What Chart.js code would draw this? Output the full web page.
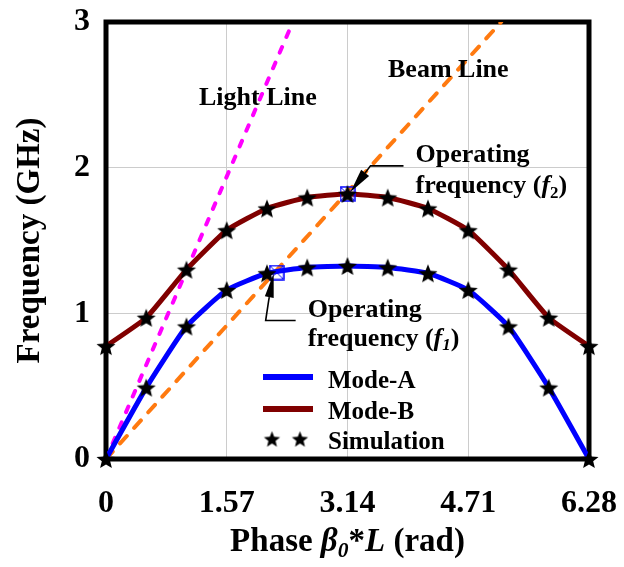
<!DOCTYPE html>
<html><head><meta charset="utf-8">
<script src="https://cdn.jsdelivr.net/npm/chart.js@4/dist/chart.umd.min.js"></script>
<style>html,body{margin:0;padding:0;background:#fff;overflow:hidden}</style>
</head><body>
<canvas id="c" width="624" height="567"></canvas>
<script>
// ---- data ----
const phase = [0, 0.5236, 1.0472, 1.5708, 2.0944, 2.618, 3.1416, 3.6652, 4.1888, 4.7124, 5.236, 5.7596, 6.2832];
const modeA = [0, 0.49, 0.91, 1.16, 1.275, 1.315, 1.325, 1.315, 1.275, 1.16, 0.91, 0.49, 0];
const modeB = [0.775, 0.97, 1.30, 1.57, 1.72, 1.795, 1.82, 1.795, 1.72, 1.57, 1.30, 0.97, 0.775];
const lightLinePhase = [0, 2.43];
const lightLineFreq = [0, 3];
const beamLinePhase = [0, 5.14];
const beamLineFreq = [0, 3];
const operPhase = [2.22, 3.1416];
const operFreq = [1.28, 1.82];
const xTickValues = [0, 1.5708, 3.1416, 4.7124, 6.2832];
const xTickLabels = ['0', '1.57', '3.14', '4.71', '6.28'];
const yTickLabels = ['0', '1', '2', '3'];
const legendLabels = ['Mode-A', 'Mode-B', 'Simulation'];

const SERIF = '"Liberation Serif", "Times New Roman", serif';
const BLUE = '#0000ff', DRED = '#800000', MAG = '#ff00ff', ORG = '#ff7a10';

function pts(xs, ys) { return xs.map((x, i) => ({x: x, y: ys[i]})); }

function makeStar(R) {
  const c = document.createElement('canvas');
  const s = Math.ceil(R * 2 + 2);
  c.width = s; c.height = s;
  const g = c.getContext('2d');
  const cx = s / 2, cy = s / 2 + R * 0.1, r = R * 0.44;
  g.beginPath();
  for (let i = 0; i < 10; i++) {
    const a = -Math.PI / 2 + i * Math.PI / 5;
    const rr = i % 2 === 0 ? R : r;
    g.lineTo(cx + rr * Math.cos(a), cy + rr * Math.sin(a));
  }
  g.closePath();
  g.fillStyle = '#000';
  g.fill();
  return c;
}
function makeSquare(side) {
  const c = document.createElement('canvas');
  const s = side + 2;
  c.width = s; c.height = s;
  const g = c.getContext('2d');
  g.strokeStyle = BLUE; g.lineWidth = 1.5;
  g.strokeRect(1, 1, side, side);
  g.lineWidth = 1;
  g.beginPath();
  g.moveTo(1, 1); g.lineTo(1 + side, 1 + side);
  g.moveTo(1 + side, 1); g.lineTo(1, 1 + side);
  g.stroke();
  return c;
}
const starImg = makeStar(10);
const starSmall = makeStar(8.5);
const sqImg = makeSquare(14);

function font(size, italic) { return (italic ? 'italic ' : '') + 'bold ' + size + 'px ' + SERIF; }

function drawRich(ctx, parts, x, y, size, align) {
  let w = 0;
  parts.forEach(p => { ctx.font = font(p.sub ? size * 0.65 : size, p.it); p.w = ctx.measureText(p.t).width; w += p.w; });
  let cx = align === 'center' ? x - w / 2 : x;
  ctx.textAlign = 'left'; ctx.textBaseline = 'alphabetic'; ctx.fillStyle = '#000';
  parts.forEach(p => {
    ctx.font = font(p.sub ? size * 0.65 : size, p.it);
    ctx.fillText(p.t, cx, p.sub ? y + size * 0.18 : y);
    cx += p.w;
  });
}

function arrow(ctx, pts, headLen, headW) {
  const n = pts.length;
  const tip = pts[n - 1], prev = pts[n - 2];
  const dx = tip[0] - prev[0], dy = tip[1] - prev[1];
  const L = Math.hypot(dx, dy), ux = dx / L, uy = dy / L;
  const bx = tip[0] - ux * headLen, by = tip[1] - uy * headLen;
  ctx.strokeStyle = '#000'; ctx.lineWidth = 1.6;
  ctx.beginPath();
  ctx.moveTo(pts[0][0], pts[0][1]);
  for (let i = 1; i < n - 1; i++) ctx.lineTo(pts[i][0], pts[i][1]);
  ctx.lineTo(bx, by);
  ctx.stroke();
  ctx.fillStyle = '#000';
  ctx.beginPath();
  ctx.moveTo(tip[0], tip[1]);
  ctx.lineTo(bx - uy * headW / 2, by + ux * headW / 2);
  ctx.lineTo(bx + uy * headW / 2, by - ux * headW / 2);
  ctx.closePath();
  ctx.fill();
}

const framePlugin = {
  id: 'frame',
  beforeDatasetsDraw(chart) {
    const {ctx, chartArea: a} = chart;
    ctx.save();
    ctx.strokeStyle = '#000'; ctx.lineWidth = 5;
    ctx.strokeRect(a.left, a.top, a.right - a.left, a.bottom - a.top);
    ctx.restore();
  }
};

const notesPlugin = {
  id: 'notes',
  afterDraw(chart) {
    const {ctx, chartArea: a, scales: {x, y}} = chart;
    ctx.save();
    drawRich(ctx, [{t: 'Light Line'}], a.left + 93, a.top + 83, 26, 'left');
    drawRich(ctx, [{t: 'Beam Line'}], a.left + 282, a.top + 55, 26, 'left');
    const m1x = x.getPixelForValue(operPhase[0]), m1y = y.getPixelForValue(operFreq[0]);
    const m2x = x.getPixelForValue(operPhase[1]), m2y = y.getPixelForValue(operFreq[1]);
    arrow(ctx, [[m2x + 56, m2y - 28], [m2x + 23, m2y - 28], [m2x + 3, m2y - 2]], 24, 10);
    arrow(ctx, [[m1x + 19, m1y + 48], [m1x - 11, m1y + 48], [m1x - 8, m1y + 28], [m1x - 3, m1y + 1]], 24, 9);
    drawRich(ctx, [{t: 'Operating'}], m2x + 68, m2y - 32, 26, 'left');
    drawRich(ctx, [{t: 'frequency ('}, {t: 'f', it: true}, {t: '2', sub: true}, {t: ')'}], m2x + 68, m2y - 1, 26, 'left');
    drawRich(ctx, [{t: 'Operating'}], m1x + 31, m1y + 44, 26, 'left');
    drawRich(ctx, [{t: 'frequency ('}, {t: 'f', it: true}, {t: '1', sub: true, it: true}, {t: ')'}], m1x + 31, m1y + 73, 26, 'left');
    const lx = a.left + 157, ly = a.top + 355;
    ctx.lineWidth = 6; ctx.lineCap = 'butt';
    ctx.strokeStyle = BLUE; ctx.beginPath(); ctx.moveTo(lx, ly); ctx.lineTo(lx + 50, ly); ctx.stroke();
    ctx.strokeStyle = DRED; ctx.beginPath(); ctx.moveTo(lx, ly + 32); ctx.lineTo(lx + 50, ly + 32); ctx.stroke();
    ctx.drawImage(starSmall, lx + 9 - starSmall.width / 2, ly + 62 - starSmall.height / 2);
    ctx.drawImage(starSmall, lx + 37 - starSmall.width / 2, ly + 62 - starSmall.height / 2);
    drawRich(ctx, [{t: legendLabels[0]}], lx + 65, ly + 11, 25, 'left');
    drawRich(ctx, [{t: legendLabels[1]}], lx + 65, ly + 42, 25, 'left');
    drawRich(ctx, [{t: legendLabels[2]}], lx + 65, ly + 72, 25, 'left');
    drawRich(ctx, [{t: 'Phase '}, {t: 'β', it: true}, {t: '0', it: true, sub: true}, {t: '*'}, {t: 'L', it: true}, {t: ' (rad)'}],
      (a.left + a.right) / 2, 551, 33, 'center');
    ctx.restore();
  }
};

const chart = new Chart(document.getElementById('c'), {
  type: 'scatter',
  data: {
    datasets: [
      {label: 'SimA', data: pts(phase, modeA), showLine: false, pointStyle: starImg, pointRadius: 9, clip: false, order: 0},
      {label: 'SimB', data: pts(phase, modeB), showLine: false, pointStyle: starImg, pointRadius: 9, clip: false, order: 0},
      {label: 'Operating', data: pts(operPhase, operFreq), showLine: false, pointStyle: sqImg, pointRadius: 8, clip: false, order: 1},
      {label: 'Mode-A', data: pts(phase, modeA), showLine: true, borderColor: BLUE, borderWidth: 5, pointRadius: 0, tension: 0.15, order: 2},
      {label: 'Mode-B', data: pts(phase, modeB), showLine: true, borderColor: DRED, borderWidth: 5, pointRadius: 0, tension: 0.15, order: 3},
      {label: 'Light Line', data: pts(lightLinePhase, lightLineFreq), showLine: true, borderColor: MAG, borderWidth: 4, borderDash: [6, 11], borderCapStyle: 'round', pointRadius: 0, order: 4},
      {label: 'Beam Line', data: pts(beamLinePhase, beamLineFreq), showLine: true, borderColor: ORG, borderWidth: 4, borderDash: [10, 11], borderCapStyle: 'round', pointRadius: 0, order: 5}
    ]
  },
  options: {
    responsive: false,
    animation: false,
    devicePixelRatio: 1,
    layout: {padding: {top: 22, right: 35, left: 0, bottom: 0}},
    plugins: {legend: {display: false}, tooltip: {enabled: false}},
    scales: {
      x: {
        type: 'linear', min: 0, max: 6.2832,
        afterBuildTicks: s => { s.ticks = xTickValues.map(v => ({value: v})); },
        afterFit: s => { s.height = 108; s.paddingLeft = 0; s.paddingRight = 0; },
        ticks: {callback: (v, i) => xTickLabels[i], padding: 26, color: '#000', font: {family: SERIF, size: 32, weight: 'bold'}, maxRotation: 0, autoSkip: false},
        grid: {color: '#cccccc', lineWidth: 1, drawTicks: false},
        border: {display: false}
      },
      y: {
        type: 'linear', min: 0, max: 3,
        ticks: {stepSize: 1, callback: (v, i) => yTickLabels[i], padding: 16, color: '#000', font: {family: SERIF, size: 32, weight: 'bold'}},
        afterFit: s => { s.width = 106; s.paddingTop = 0; s.paddingBottom = 0; },
        grid: {color: '#cccccc', lineWidth: 1, drawTicks: false},
        border: {display: false},
        title: {display: true, text: 'Frequency (GHz)', color: '#000', padding: {top: 11, bottom: 0}, font: {family: SERIF, size: 33, weight: 'bold', lineHeight: 1.2}}
      }
    }
  },
  plugins: [framePlugin, notesPlugin]
});
</script>
</body></html>
